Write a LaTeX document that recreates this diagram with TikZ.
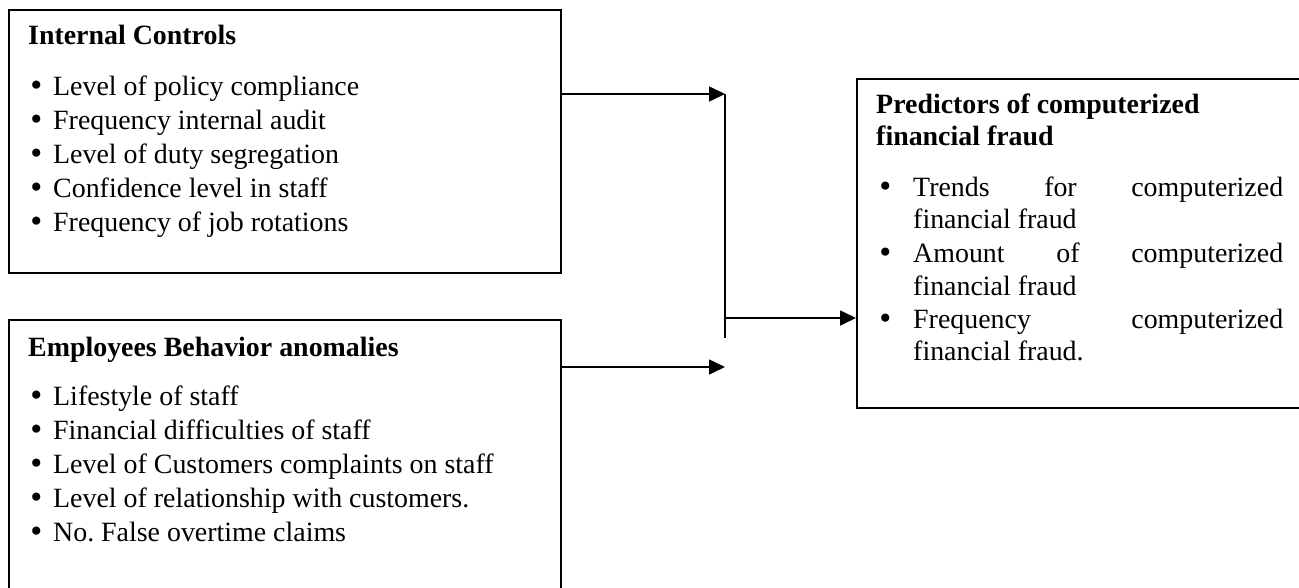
\documentclass[tikz,border=0pt]{standalone}
\usepackage{fontspec}
\setmainfont{Liberation Serif}
\newfontfamily\bulfont{DejaVu Sans}
\usetikzlibrary{arrows.meta}
\frenchspacing
\newcommand{\bigbul}{{\bulfont •}}
\newcommand{\bitem}{\makebox[25pt][l]{\bigbul}}
\begin{document}
\begin{tikzpicture}[x=1pt,y=-1pt,
  box/.style={draw=black,line width=1.6pt,rectangle,inner sep=0pt,anchor=north west},
  txt/.style={inner sep=0pt,anchor=base west,font=\fontsize{27.9}{32}\selectfont},
  ttl/.style={txt,font=\fontsize{27.9}{32}\selectfont\bfseries},
  conn/.style={line width=1.6pt},
  arr/.style={conn,-{Triangle[length=16pt,width=15pt]}}]
\path[use as bounding box,fill=white] (0,0) rectangle (1299,588);
\clip (0,0) rectangle (1299,588);
% boxes
\node[box,minimum width=552pt,minimum height=263pt] (ic) at (8,9) {};
\node[box,minimum width=552pt,minimum height=300pt] (eb) at (8,319) {};
\node[box,minimum width=460pt,minimum height=329pt] (pf) at (856,78) {};
% box 1 text
\node[ttl] (ic-t) at (28,45) {Internal Controls};
\node[txt] (ic-1) at (28,96) {\bitem Level of policy compliance};
\node[txt] (ic-2) at (28,130) {\bitem Frequency internal audit};
\node[txt] (ic-3) at (28,164) {\bitem Level of duty segregation};
\node[txt] (ic-4) at (28,198) {\bitem Confidence level in staff};
\node[txt] (ic-5) at (28,232) {\bitem Frequency of job rotations};
% box 2 text
\node[ttl] (eb-t) at (28,356) {Employees Behavior anomalies};
\node[txt] (eb-1) at (28,405) {\bitem Lifestyle of staff};
\node[txt] (eb-2) at (28,439) {\bitem Financial difficulties of staff};
\node[txt] (eb-3) at (28,473) {\bitem Level of Customers complaints on staff};
\node[txt] (eb-4) at (28,507) {\bitem Level of relationship with customers.};
\node[txt] (eb-5) at (28,541) {\bitem No. False overtime claims};
% box 3 text
\node[ttl] (pf-t1) at (876,114) {Predictors of computerized};
\node[ttl] (pf-t2) at (876,146) {financial fraud};
\node[txt] (pf-b1) at (877,197) {\bigbul};
\node[txt] (pf-1a) at (913,197) {\makebox[370pt][s]{Trends\hfill for\hfill computerized}};
\node[txt] (pf-1b) at (913,229) {financial fraud};
\node[txt] (pf-b2) at (877,263) {\bigbul};
\node[txt] (pf-2a) at (913,263) {\makebox[370pt][s]{Amount\hfill of\hfill computerized}};
\node[txt] (pf-2b) at (913,295) {financial fraud};
\node[txt] (pf-b3) at (877,328) {\bigbul};
\node[txt] (pf-3a) at (913,328) {\makebox[370pt][s]{Frequency\hfill computerized}};
\node[txt] (pf-3b) at (913,360) {financial fraud.};
% connectors
\coordinate (j1) at (725,94);
\coordinate (j2) at (725,367);
\coordinate (jb) at (725,338);
\coordinate (jm) at (725,318);
\draw[arr] (ic.east |- j1) -- (j1);
\draw[arr] (eb.east |- j2) -- (j2);
\draw[conn] (j1) -- (jb);
\draw[arr] (jm) -- (pf.west |- jm);
\end{tikzpicture}
\end{document}
